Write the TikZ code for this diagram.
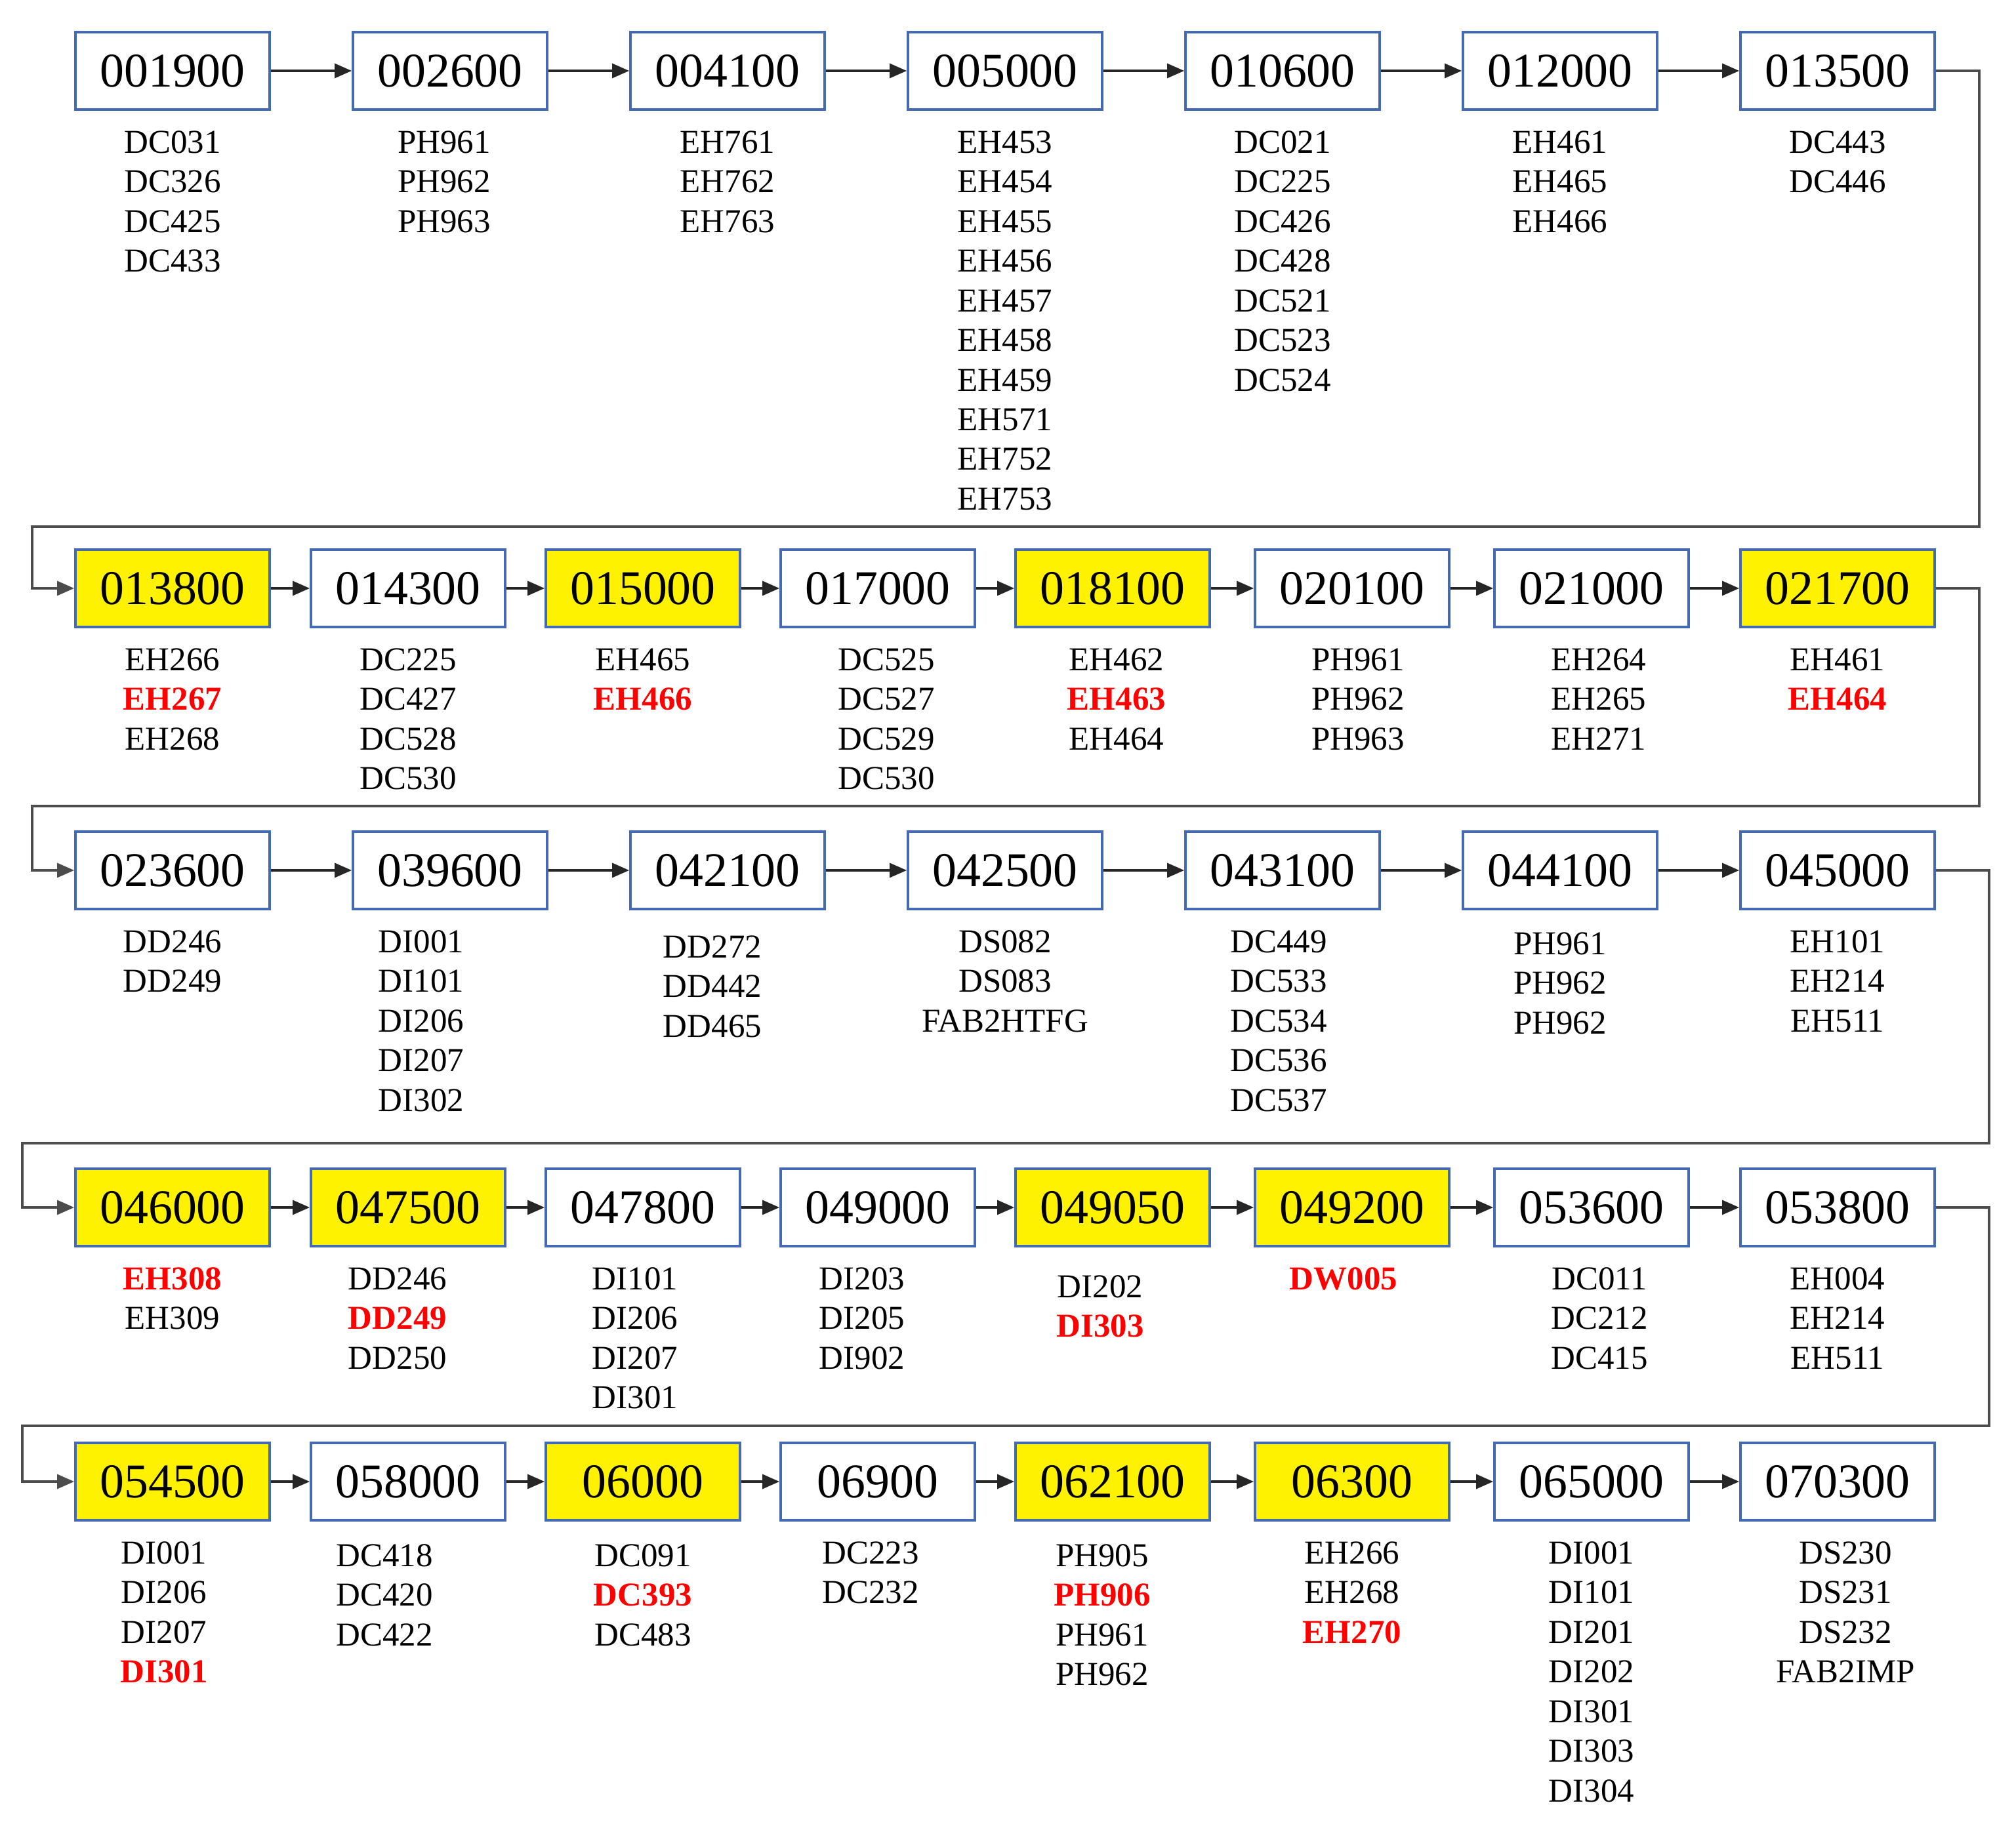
\documentclass[tikz,border=0pt]{standalone}
\usepackage{fontspec}
\setmainfont{Liberation Serif}
\usetikzlibrary{positioning,arrows.meta}
\definecolor{boxblue}{RGB}{68,106,180}
\newcommand{\redcode}[1]{\textcolor{red}{\bfseries #1}}

\begin{document}
\begin{tikzpicture}[
    op/.style={draw=boxblue, line width=1.1pt, fill=white, minimum width=2.96cm,
      minimum height=1.18cm, inner sep=0pt, font=\fontsize{21}{25}\selectfont},
    hl/.style={fill=yellow},
    codes/.style={align=center, inner sep=0pt, font=\fontsize{14.5}{17.2}\selectfont},
    flow/.style={-{Triangle[length=0.26cm,width=0.22cm]}, line width=0.9pt, black!85},
    wrap/.style={flow, black!70}]
  \useasboundingbox (0,0) rectangle (30.73,-28.07);
  % row 1
  \node[op] (a1) at (2.63,-1.08) {001900};
  \node[op] (a2) at (6.86,-1.08) {002600};
  \node[op] (a3) at (11.09,-1.08) {004100};
  \node[op] (a4) at (15.32,-1.08) {005000};
  \node[op] (a5) at (19.55,-1.08) {010600};
  \node[op] (a6) at (23.78,-1.08) {012000};
  \node[op] (a7) at (28.01,-1.08) {013500};
  \node[codes, below=0.30cm of a1] (la1) {DC031\\DC326\\DC425\\DC433};
  \node[codes, below=0.30cm of a2, xshift=-0.09cm] (la2) {PH961\\PH962\\PH963};
  \node[codes, below=0.30cm of a3] (la3) {EH761\\EH762\\EH763};
  \node[codes, below=0.30cm of a4] (la4) {EH453\\EH454\\EH455\\EH456\\EH457\\EH458\\EH459\\EH571\\EH752\\EH753};
  \node[codes, below=0.30cm of a5] (la5) {DC021\\DC225\\DC426\\DC428\\DC521\\DC523\\DC524};
  \node[codes, below=0.30cm of a6] (la6) {EH461\\EH465\\EH466};
  \node[codes, below=0.30cm of a7] (la7) {DC443\\DC446};
  % row 2
  \node[op,hl] (b1) at (2.63,-8.97) {013800};
  \node[op] (b2) at (6.22,-8.97) {014300};
  \node[op,hl] (b3) at (9.80,-8.97) {015000};
  \node[op] (b4) at (13.38,-8.97) {017000};
  \node[op,hl] (b5) at (16.96,-8.97) {018100};
  \node[op] (b6) at (20.61,-8.97) {020100};
  \node[op] (b7) at (24.26,-8.97) {021000};
  \node[op,hl] (b8) at (28.01,-8.97) {021700};
  \node[codes, below=0.30cm of b1] (lb1) {EH266\\\redcode{EH267}\\EH268};
  \node[codes, below=0.30cm of b2] (lb2) {DC225\\DC427\\DC528\\DC530};
  \node[codes, below=0.30cm of b3] (lb3) {EH465\\\redcode{EH466}};
  \node[codes, below=0.30cm of b4, xshift=0.13cm] (lb4) {DC525\\DC527\\DC529\\DC530};
  \node[codes, below=0.30cm of b5, xshift=0.06cm] (lb5) {EH462\\\redcode{EH463}\\EH464};
  \node[codes, below=0.30cm of b6, xshift=0.09cm] (lb6) {PH961\\PH962\\PH963};
  \node[codes, below=0.30cm of b7, xshift=0.11cm] (lb7) {EH264\\EH265\\EH271};
  \node[codes, below=0.30cm of b8] (lb8) {EH461\\\redcode{EH464}};
  % row 3
  \node[op] (c1) at (2.63,-13.27) {023600};
  \node[op] (c2) at (6.86,-13.27) {039600};
  \node[op] (c3) at (11.09,-13.27) {042100};
  \node[op] (c4) at (15.32,-13.27) {042500};
  \node[op] (c5) at (19.55,-13.27) {043100};
  \node[op] (c6) at (23.78,-13.27) {044100};
  \node[op] (c7) at (28.01,-13.27) {045000};
  \node[codes, below=0.30cm of c1] (lc1) {DD246\\DD249};
  \node[codes, below=0.30cm of c2, xshift=-0.44cm] (lc2) {DI001\\DI101\\DI206\\DI207\\DI302};
  \node[codes, below=0.38cm of c3, xshift=-0.23cm] (lc3) {DD272\\DD442\\DD465};
  \node[codes, below=0.30cm of c4] (lc4) {DS082\\DS083\\FAB2HTFG};
  \node[codes, below=0.30cm of c5, xshift=-0.06cm] (lc5) {DC449\\DC533\\DC534\\DC536\\DC537};
  \node[codes, below=0.33cm of c6] (lc6) {PH961\\PH962\\PH962};
  \node[codes, below=0.30cm of c7] (lc7) {EH101\\EH214\\EH511};
  % row 4
  \node[op,hl] (d1) at (2.63,-18.41) {046000};
  \node[op,hl] (d2) at (6.22,-18.41) {047500};
  \node[op] (d3) at (9.80,-18.41) {047800};
  \node[op] (d4) at (13.38,-18.41) {049000};
  \node[op,hl] (d5) at (16.96,-18.41) {049050};
  \node[op,hl] (d6) at (20.61,-18.41) {049200};
  \node[op] (d7) at (24.26,-18.41) {053600};
  \node[op] (d8) at (28.01,-18.41) {053800};
  \node[codes, below=0.30cm of d1] (ld1) {\redcode{EH308}\\EH309};
  \node[codes, below=0.30cm of d2, xshift=-0.16cm] (ld2) {DD246\\\redcode{DD249}\\DD250};
  \node[codes, below=0.30cm of d3, xshift=-0.12cm] (ld3) {DI101\\DI206\\DI207\\DI301};
  \node[codes, below=0.30cm of d4, xshift=-0.24cm] (ld4) {DI203\\DI205\\DI902};
  \node[codes, below=0.42cm of d5, xshift=-0.19cm] (ld5) {DI202\\\redcode{DI303}};
  \node[codes, below=0.30cm of d6, xshift=-0.13cm] (ld6) {\redcode{DW005}};
  \node[codes, below=0.30cm of d7, xshift=0.12cm] (ld7) {DC011\\DC212\\DC415};
  \node[codes, below=0.30cm of d8] (ld8) {EH004\\EH214\\EH511};
  % row 5
  \node[op,hl] (e1) at (2.63,-22.59) {054500};
  \node[op] (e2) at (6.22,-22.59) {058000};
  \node[op,hl] (e3) at (9.80,-22.59) {06000};
  \node[op] (e4) at (13.38,-22.59) {06900};
  \node[op,hl] (e5) at (16.96,-22.59) {062100};
  \node[op,hl] (e6) at (20.61,-22.59) {06300};
  \node[op] (e7) at (24.26,-22.59) {065000};
  \node[op] (e8) at (28.01,-22.59) {070300};
  \node[codes, below=0.30cm of e1, xshift=-0.13cm] (le1) {DI001\\DI206\\DI207\\\redcode{DI301}};
  \node[codes, below=0.34cm of e2, xshift=-0.36cm] (le2) {DC418\\DC420\\DC422};
  \node[codes, below=0.34cm of e3] (le3) {DC091\\\redcode{DC393}\\DC483};
  \node[codes, below=0.30cm of e4, xshift=-0.11cm] (le4) {DC223\\DC232};
  \node[codes, below=0.34cm of e5, xshift=-0.16cm] (le5) {PH905\\\redcode{PH906}\\PH961\\PH962};
  \node[codes, below=0.30cm of e6] (le6) {EH266\\EH268\\\redcode{EH270}};
  \node[codes, below=0.30cm of e7] (le7) {DI001\\DI101\\DI201\\DI202\\DI301\\DI303\\DI304};
  \node[codes, below=0.30cm of e8, xshift=0.12cm] (le8) {DS230\\DS231\\DS232\\FAB2IMP};
  % arrows inside the rows
  \draw[flow] (a1) -- (a2); \draw[flow] (a2) -- (a3); \draw[flow] (a3) -- (a4);
  \draw[flow] (a4) -- (a5); \draw[flow] (a5) -- (a6); \draw[flow] (a6) -- (a7);
  \draw[flow] (b1) -- (b2); \draw[flow] (b2) -- (b3); \draw[flow] (b3) -- (b4);
  \draw[flow] (b4) -- (b5); \draw[flow] (b5) -- (b6); \draw[flow] (b6) -- (b7);
  \draw[flow] (b7) -- (b8);
  \draw[flow] (c1) -- (c2); \draw[flow] (c2) -- (c3); \draw[flow] (c3) -- (c4);
  \draw[flow] (c4) -- (c5); \draw[flow] (c5) -- (c6); \draw[flow] (c6) -- (c7);
  \draw[flow] (d1) -- (d2); \draw[flow] (d2) -- (d3); \draw[flow] (d3) -- (d4);
  \draw[flow] (d4) -- (d5); \draw[flow] (d5) -- (d6); \draw[flow] (d6) -- (d7);
  \draw[flow] (d7) -- (d8);
  \draw[flow] (e1) -- (e2); \draw[flow] (e2) -- (e3); \draw[flow] (e3) -- (e4);
  \draw[flow] (e4) -- (e5); \draw[flow] (e5) -- (e6); \draw[flow] (e6) -- (e7);
  \draw[flow] (e7) -- (e8);
  % wrap to the next row
  \draw[wrap] (a7.east) -- ++(0.66,0) |- (0.49,-8.03) |- (b1.west);
  \draw[wrap] (b8.east) -- ++(0.66,0) |- (0.49,-12.29) |- (c1.west);
  \draw[wrap] (c7.east) -- ++(0.81,0) |- (0.34,-17.43) |- (d1.west);
  \draw[wrap] (d8.east) -- ++(0.81,0) |- (0.34,-21.74) |- (e1.west);
\end{tikzpicture}
\end{document}
